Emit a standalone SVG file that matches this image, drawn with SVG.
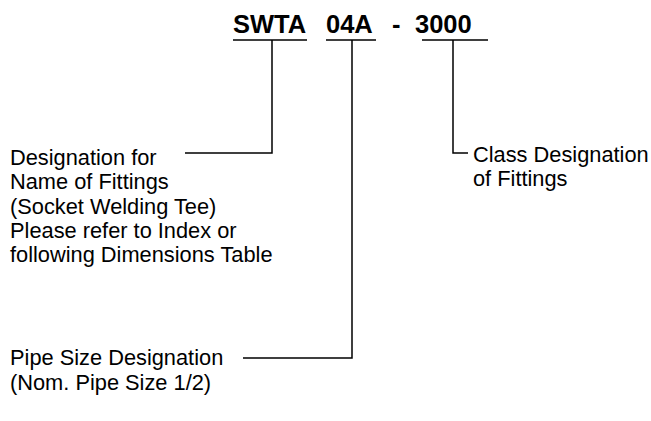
<svg xmlns="http://www.w3.org/2000/svg" width="651" height="421" viewBox="0 0 651 421">
<style>
.t{font-family:"Liberation Sans",Arial,sans-serif;font-size:21.8px;fill:#000}
.h{font-family:"Liberation Sans",Arial,sans-serif;font-size:25.5px;font-weight:bold;fill:#000}
.c{fill:none;stroke:#000;stroke-width:1.5}
</style>
<rect width="651" height="421" fill="#fff"/>
<g id="title">
<text class="h" x="233" y="33">SWTA</text>
<text class="h" x="326" y="33">04A</text>
<text class="h" x="392" y="33">-</text>
<text class="h" x="415" y="33">3000</text>
</g>
<g id="connectors">
<path class="c" d="M233 40H307M326 40H376M422 40H488"/>
<path class="c" d="M272 40V153H185"/>
<path class="c" d="M352 40V358H243"/>
<path class="c" d="M453 40V153H468"/>
</g>
<g id="name">
<text class="t" x="10" y="165">Designation for</text>
<text class="t" x="10" y="189.3">Name of Fittings</text>
<text class="t" x="10" y="213.6">(Socket Welding Tee)</text>
<text class="t" x="10" y="237.9">Please refer to Index or</text>
<text class="t" x="10" y="262.2">following Dimensions Table</text>
</g>
<g id="class">
<text class="t" x="473" y="161.5">Class Designation</text>
<text class="t" x="473" y="186">of Fittings</text>
</g>
<g id="size">
<text class="t" x="10" y="365">Pipe Size Designation</text>
<text class="t" x="10" y="389.5">(Nom. Pipe Size 1/2)</text>
</g>
</svg>
